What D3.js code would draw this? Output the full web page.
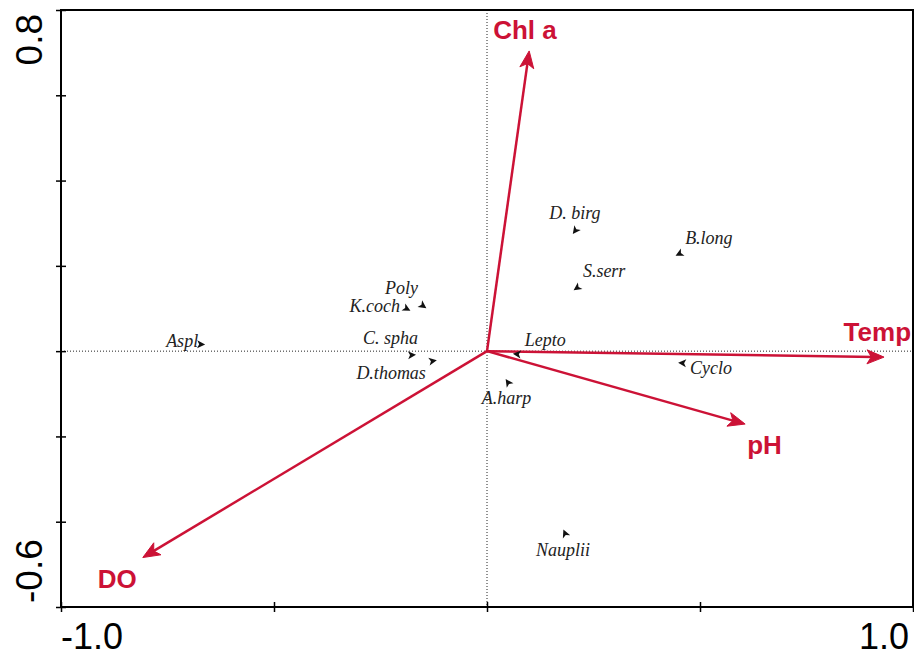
<!DOCTYPE html>
<html>
<head>
<meta charset="utf-8">
<script src="https://cdn.jsdelivr.net/npm/d3@7"></script>
<style>
  body { margin: 0; background: #fff; }
  svg { display: block; }
</style>
</head>
<body>
<div id="biplot"></div>
<script>
// species scores (axis 1, axis 2)
var speciesNames = ["Aspl", "Poly", "K.coch", "C. spha", "D.thomas", "D. birg", "B.long", "S.serr", "Lepto", "Cyclo", "A.harp", "Nauplii"];
var speciesX = [-0.671, -0.150, -0.188, -0.176, -0.127, 0.207, 0.451, 0.211, 0.070, 0.458, 0.049, 0.183];
var speciesY = [0.016, 0.106, 0.099, -0.009, -0.023, 0.282, 0.228, 0.148, -0.007, -0.028, -0.073, -0.427];

// environmental variables
var envNames = ["Chl a", "Temp", "pH", "DO"];
var envX = [0.099, 0.932, 0.606, -0.808];
var envY = [0.704, -0.014, -0.171, -0.484];

// axis ticks
var xTicks = [-1.0, -0.5, 0, 0.5, 1.0];
var yTicks = [-0.6, -0.4, -0.2, 0, 0.2, 0.4, 0.6, 0.8];
var xTickLabels = ["-1.0", "1.0"];
var yTickLabels = ["-0.6", "0.8"];

// label placement (pixels, relative to the point)
var speciesLabelPos = {
    "Aspl": [-3, 3, "end"],
    "Poly": [-5, -12, "end"],
    "K.coch": [-7, 3, "end"],
    "C. spha": [6, -11, "end"],
    "D.thomas": [-7, 18, "end"],
    "D. birg": [-26, -12, "start"],
    "B.long": [6, -10, "start"],
    "S.serr": [6, -11, "start"],
    "Lepto": [8, -8, "start"],
    "Cyclo": [8, 11, "start"],
    "A.harp": [-26, 22, "start"],
    "Nauplii": [-29, 23, "start"]
};
var envLabelPos = {
    "Chl a": [-36, -12, "start"],
    "Temp": [27, -16, "end"],
    "pH": [2, 30, "start"],
    "DO": [-45, 30, "start"]
};

var red = "#cc1236";

var margin = {top: 10, right: 1, bottom: 51, left: 61};
var width = 914 - margin.left - margin.right;
var height = 658 - margin.top - margin.bottom;

var svg = d3.select("#biplot")
  .append("svg")
    .attr("width", width + margin.left + margin.right)
    .attr("height", height + margin.top + margin.bottom)
  .append("g")
    .attr("transform", "translate(" + margin.left + "," + margin.top + ")");

var x = d3.scaleLinear()
    .domain([-1, 1])
    .range([0, width]);

var y = d3.scaleLinear()
    .domain([-0.6, 0.8])
    .range([height, 0]);

// dotted zero lines
svg.append("line")
    .attr("x1", x(0)).attr("x2", x(0))
    .attr("y1", 0).attr("y2", height)
    .style("stroke", "#222")
    .style("stroke-width", 1)
    .style("stroke-dasharray", "1,2");
svg.append("line")
    .attr("x1", 0).attr("x2", width)
    .attr("y1", y(0)).attr("y2", y(0))
    .style("stroke", "#222")
    .style("stroke-width", 1)
    .style("stroke-dasharray", "1,2");

// axes (ticks only, crossing the frame)
var xAxis = svg.append("g")
    .attr("transform", "translate(0," + height + ")")
    .call(d3.axisBottom(x).tickValues(xTicks).tickSize(5).tickFormat(""));
xAxis.select(".domain").remove();
xAxis.selectAll(".tick line").attr("y1", -5).attr("stroke", "#000").attr("stroke-width", 1.5);

var yAxis = svg.append("g")
    .call(d3.axisLeft(y).tickValues(yTicks).tickSize(5).tickFormat(""));
yAxis.select(".domain").remove();
yAxis.selectAll(".tick line").attr("x1", 5).attr("x2", -5).attr("stroke", "#000").attr("stroke-width", 1.5);

// frame
svg.append("rect")
    .attr("x", 0).attr("y", 0)
    .attr("width", width).attr("height", height)
    .style("fill", "none")
    .style("stroke", "#000")
    .style("stroke-width", 2);

// end tick labels
svg.selectAll(".xlab")
    .data(xTickLabels)
    .enter()
    .append("text")
    .attr("class", "xlab")
    .attr("x", function (d, i) { return x(+d) + (i == 0 ? 0 : -4); })
    .attr("y", height + 42)
    .attr("text-anchor", function (d, i) { return i == 0 ? "start" : "end"; })
    .style("font-family", "'Liberation Sans', Arial, sans-serif")
    .style("font-size", "36px")
    .text(function (d) { return d; });

svg.selectAll(".ylab")
    .data(yTickLabels)
    .enter()
    .append("text")
    .attr("class", "ylab")
    .attr("transform", function (d) {
        return "translate(-19," + y(+d) + ") rotate(-90)";
    })
    .attr("x", function (d, i) { return i == 0 ? 4 : -4; })
    .attr("text-anchor", function (d, i) { return i == 0 ? "start" : "end"; })
    .style("font-family", "'Liberation Sans', Arial, sans-serif")
    .style("font-size", "37px")
    .text(function (d) { return d; });

// arrowhead polygon pointing from (x0,y0) to tip (x1,y1)
function headPath(x0, y0, x1, y1, len, half) {
    var dx = x1 - x0, dy = y1 - y0;
    var L = Math.sqrt(dx * dx + dy * dy);
    var ux = dx / L, uy = dy / L;
    var bx = x1 - ux * len, by = y1 - uy * len;
    return "M" + x1 + "," + y1 +
        "L" + (bx - uy * half) + "," + (by + ux * half) +
        "L" + (bx + ux * len * 0.25) + "," + (by + uy * len * 0.25) +
        "L" + (bx + uy * half) + "," + (by - ux * half) + "Z";
}

// environmental arrows
var env = envNames.map(function (n, i) { return {name: n, x: envX[i], y: envY[i]}; });

var envG = svg.append("g");
envG.selectAll(".env-line")
    .data(env)
    .enter()
    .append("line")
    .attr("class", "env-line")
    .attr("x1", x(0))
    .attr("y1", y(0))
    .attr("x2", function (d) {
        var dx = x(d.x) - x(0), dy = y(d.y) - y(0);
        var L = Math.sqrt(dx * dx + dy * dy);
        return x(d.x) - dx / L * 10;
    })
    .attr("y2", function (d) {
        var dx = x(d.x) - x(0), dy = y(d.y) - y(0);
        var L = Math.sqrt(dx * dx + dy * dy);
        return y(d.y) - dy / L * 10;
    })
    .style("stroke", red)
    .style("stroke-width", 2.5);

envG.selectAll(".env-head")
    .data(env)
    .enter()
    .append("path")
    .attr("class", "env-head")
    .attr("d", function (d) { return headPath(x(0), y(0), x(d.x), y(d.y), 17, 7); })
    .style("fill", red)
    .style("stroke", red)
    .style("stroke-width", 1);

envG.selectAll(".env-label")
    .data(env)
    .enter()
    .append("text")
    .attr("class", "env-label")
    .attr("x", function (d) { return x(d.x) + envLabelPos[d.name][0]; })
    .attr("y", function (d) { return y(d.y) + envLabelPos[d.name][1]; })
    .attr("text-anchor", function (d) { return envLabelPos[d.name][2]; })
    .style("font-family", "'Liberation Sans', Arial, sans-serif")
    .style("font-weight", "bold")
    .style("font-size", "26px")
    .style("fill", red)
    .text(function (d) { return d.name; });

// species
var species = speciesNames.map(function (n, i) { return {name: n, x: speciesX[i], y: speciesY[i]}; });

var spG = svg.append("g");
spG.selectAll(".sp-mark")
    .data(species)
    .enter()
    .append("path")
    .attr("class", "sp-mark")
    .attr("d", function (d) {
        // small head pointing back toward the origin
        var px = x(d.x), py = y(d.y);
        var dx = x(0) - px, dy = y(0) - py;
        var L = Math.sqrt(dx * dx + dy * dy);
        var tx = px + dx / L * 4, ty = py + dy / L * 4;
        return headPath(px - dx / L * 4, py - dy / L * 4, tx, ty, 8, 4);
    })
    .style("fill", "#111");

spG.selectAll(".sp-label")
    .data(species)
    .enter()
    .append("text")
    .attr("class", "sp-label")
    .attr("x", function (d) { return x(d.x) + speciesLabelPos[d.name][0]; })
    .attr("y", function (d) { return y(d.y) + speciesLabelPos[d.name][1]; })
    .attr("text-anchor", function (d) { return speciesLabelPos[d.name][2]; })
    .style("font-family", "'Liberation Serif', 'Times New Roman', serif")
    .style("font-style", "italic")
    .style("font-size", "18px")
    .style("fill", "#222")
    .text(function (d) { return d.name; });
</script>
</body>
</html>
